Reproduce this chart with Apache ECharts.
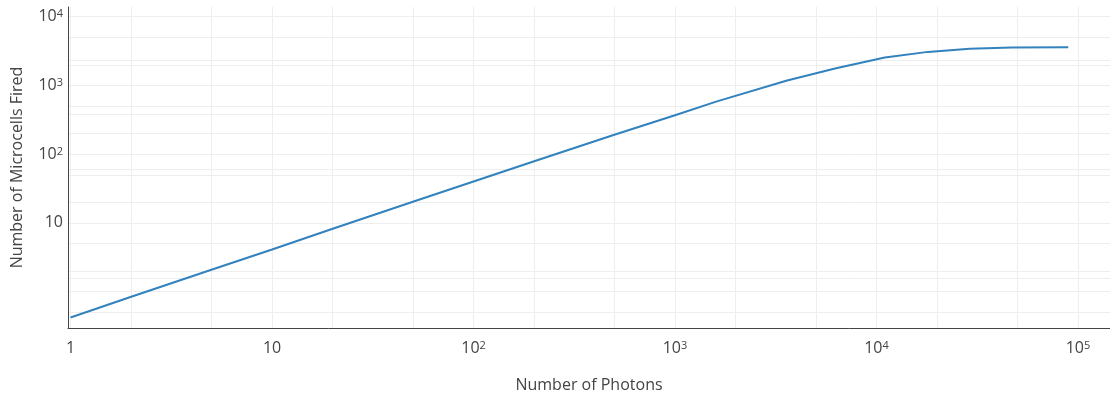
<!DOCTYPE html>
<html>
<head>
<meta charset="utf-8">
<script src="https://cdn.jsdelivr.net/npm/echarts@6/dist/echarts.min.js"></script>
<style>html,body{margin:0;padding:0;background:#fff}#c{width:1110px;height:398px}</style>
</head>
<body>
<div id="c"></div>
<script>
// Data
var photons = [1, 2, 5, 10, 20, 50, 100, 200, 500, 1000, 1600, 3600, 6300, 11000, 18000, 29000, 47000, 89500];
var microcells = [0.42, 0.84, 2.08, 4.1, 8.2, 20.3, 40, 79, 192, 368, 582, 1180, 1780, 2560, 3080, 3420, 3575, 3600];
// Minor grid values (2 and 5 per decade) and the extra faint grid lines
var xMinorGrid = [2, 5, 20, 50, 200, 500, 2000, 5000, 20000, 50000];
var yMinorGrid = [0.5, 2, 5, 20, 50, 200, 500, 2000, 5000];
var yExtraGrid = [1.56, 60.5, 376, 2350];

var FONT = 'Open Sans';
var TXT = '#444';

function isPow10(v) {
  var l = Math.log10(v);
  return Math.abs(l - Math.round(l)) < 1e-6;
}
function fmt(v, showOne) {
  if (!isPow10(v)) return '';
  var e = Math.round(Math.log10(v));
  if (e === 0) return showOne ? '{b|1}' : '';
  if (e === 1) return '{b|10}';
  if (e < 0) return '';
  return '{b|10}{s|' + e + '}';
}
var rich = {
  b: { fontFamily: FONT, fontSize: 16, color: TXT, lineHeight: 16 },
  s: { fontFamily: FONT, fontSize: 11, color: TXT, lineHeight: 12, verticalAlign: 'top' }
};

var gridLineStyle = { color: '#eeeeee', width: 1, type: 'solid' };
var mlData = [];
xMinorGrid.forEach(function (v) { mlData.push({ xAxis: v }); });
yMinorGrid.forEach(function (v) { mlData.push({ yAxis: v }); });
yExtraGrid.forEach(function (v) { mlData.push({ yAxis: v }); });

var chart = echarts.init(document.getElementById('c'), null, { renderer: 'canvas' });
chart.setOption({
  animation: false,
  backgroundColor: '#ffffff',
  grid: { left: 68, right: 0, top: 7, bottom: 67, containLabel: false },
  xAxis: {
    type: 'log', logBase: 10, min: 0.971, max: 144200,
    name: 'Number of Photons', nameLocation: 'middle', nameGap: 49,
    nameTextStyle: { fontFamily: FONT, fontSize: 16, color: TXT },
    axisLine: { show: true, lineStyle: { color: '#444', width: 1 } },
    axisTick: { show: false },
    axisLabel: { margin: 12, formatter: function (v) { return fmt(v, true); }, rich: rich, showMinLabel: false, showMaxLabel: false },
    splitLine: { show: true, lineStyle: gridLineStyle, showMinLine: false, showMaxLine: false },
    minorTick: { show: false }, minorSplitLine: { show: false }
  },
  yAxis: {
    type: 'log', logBase: 10, min: 0.295, max: 13860,
    name: 'Number of Microcells Fired', nameLocation: 'middle', nameGap: 43,
    nameTextStyle: { fontFamily: FONT, fontSize: 16, color: TXT },
    axisLine: { show: true, lineStyle: { color: '#444', width: 1 } },
    axisTick: { show: false },
    axisLabel: { margin: 5, formatter: function (v) { return fmt(v, false); }, rich: rich, showMinLabel: false, showMaxLabel: false },
    splitLine: { show: true, lineStyle: gridLineStyle, showMinLine: false, showMaxLine: false },
    minorTick: { show: false }, minorSplitLine: { show: false }
  },
  series: [
    {
      type: 'line', z: -2, data: [], silent: true,
      markLine: {
        z: -2, silent: true, symbol: ['none', 'none'], animation: false,
        label: { show: false }, emphasis: { disabled: true },
        lineStyle: gridLineStyle, data: mlData
      }
    },
    {
      type: 'line', z: 3,
      data: photons.map(function (x, i) { return [x, microcells[i]]; }),
      showSymbol: false, symbol: 'none', smooth: false,
      lineStyle: { color: '#3182bd', width: 2 }
    }
  ]
});
</script>
</body>
</html>
